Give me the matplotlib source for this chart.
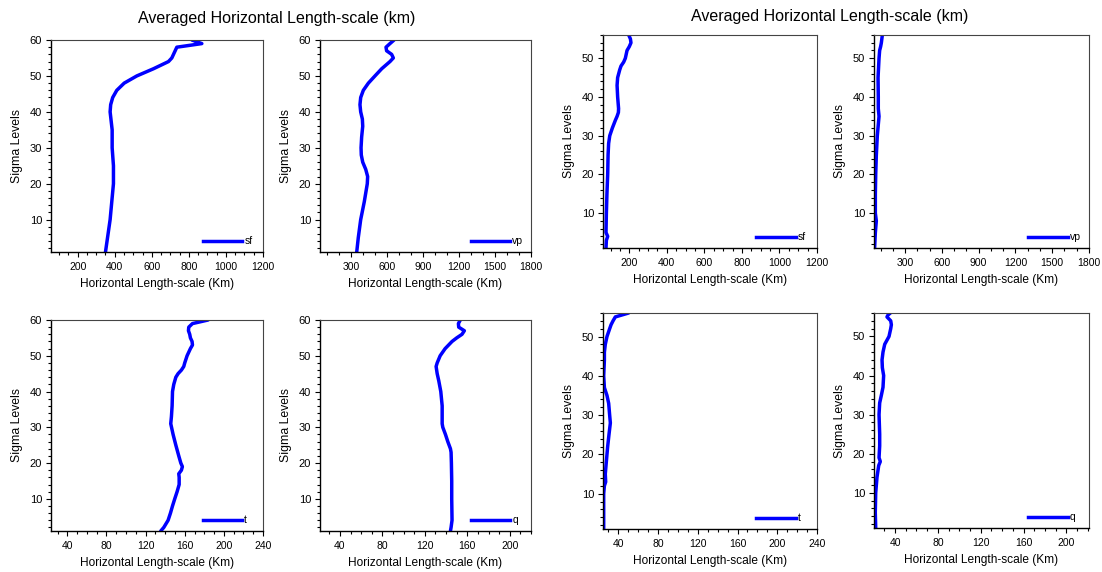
import matplotlib.pyplot as plt
from matplotlib.ticker import MultipleLocator

plt.rcParams['font.family'] = ['Liberation Sans', 'DejaVu Sans']

# Profils de longueur d'echelle horizontale moyenne (km) par niveau sigma
# --- groupe de gauche (60 niveaux) ---
sf_lev_a = [1, 10, 20, 25, 30, 35, 40, 42, 44, 46, 48, 50, 52, 54, 55, 56, 57, 58, 59, 60]
sf_val_a = [350, 375, 393, 393, 386, 386, 375, 378, 389, 411, 451, 519, 609, 690, 708, 717, 726, 735, 870, 816]

vp_lev_a = [1, 5, 10, 15, 20, 22, 24, 26, 28, 30, 33, 36, 38, 40, 42, 44, 46, 48, 50, 52, 54, 55, 56, 57, 58, 59, 60]
vp_val_a = [348, 361, 381, 411, 436, 439, 423, 398, 386, 384, 389, 398, 395, 381, 375, 381, 403, 445, 500, 556, 625, 653, 639, 597, 592, 625, 659]

t_lev_a = [1, 2, 4, 6, 8, 10, 12, 14, 16, 17, 18, 19, 20, 22, 25, 28, 31, 33, 36, 40, 42, 44, 45, 46, 47, 48,
           50, 52, 53, 54, 55, 56, 57, 58, 59, 60]
t_val_a = [135.5, 138.6, 143.0, 145.4, 147.5, 149.8, 152.2, 154.3, 154.3, 153.9, 156.6, 157.6, 156.0, 153.9,
           150.9, 148.1, 145.7, 146.4, 147.1, 147.5, 148.8, 150.9, 153.2, 156.6, 159.0, 160.0, 162.4, 165.8,
           167.9, 167.5, 165.8, 165.1, 163.8, 164.1, 167.9, 183.9]

q_lev_a = [1, 2, 4, 10, 15, 20, 23, 24, 26, 28, 30, 31, 33, 36, 40, 43, 45, 47, 48, 50, 52, 54, 55, 56, 57, 58, 59, 60]
q_val_a = [144.1, 144.7, 145.6, 145.3, 145.3, 145.0, 144.7, 144.1, 141.6, 139.4, 136.9, 136.3, 136.3, 136.3,
           135.0, 133.1, 131.6, 130.6, 131.6, 134.4, 139.1, 145.6, 150.0, 155.0, 157.2, 151.9, 151.6, 153.4]

# --- groupe de droite (56 niveaux) ---
sf_lev_b = [1, 3, 4, 5, 10, 15, 20, 25, 28, 30, 32, 34, 35, 36, 37, 40, 43, 45, 47, 48, 49, 50, 52, 53, 54, 55, 56]
sf_val_b = [76, 78, 85, 76, 78, 81, 85, 87, 90, 96, 110, 126, 135, 142, 143, 138, 135, 138, 149, 156, 170, 179,
            188, 200, 209, 206, 197]

vp_lev_b = [1, 5, 8, 10, 15, 20, 25, 30, 35, 37, 40, 45, 50, 52, 53, 54, 56]
vp_val_b = [52, 58, 66, 58, 58, 61, 66, 74, 88, 82, 82, 80, 88, 93, 101, 107, 115]

t_lev_b = [1, 5, 10, 12, 13, 15, 20, 22, 25, 28, 30, 33, 35, 37, 40, 44, 46, 48, 50, 52, 53, 54, 55, 56]
t_val_b = [25.3, 25.3, 25.3, 26.0, 27.3, 26.9, 28.6, 29.3, 30.6, 32.0, 31.3, 30.3, 28.6, 26.0, 25.3, 26.0,
           26.0, 26.9, 28.6, 31.3, 32.7, 34.7, 37.0, 50.4]

q_lev_b = [1, 5, 10, 14, 17, 18, 19, 22, 25, 30, 33, 35, 37, 40, 42, 44, 46, 48, 50, 52, 53, 54, 55, 55.5, 56]
q_val_b = [22.0, 21.6, 22.0, 23.2, 24.8, 26.3, 25.1, 25.7, 25.7, 25.1, 25.7, 27.3, 28.8, 29.4, 28.2, 27.9,
           28.8, 30.4, 34.4, 36.0, 36.6, 36.0, 32.5, 33.5, 35.7]

W, H = 1102, 572
fig = plt.figure(figsize=(W / 100, H / 100), dpi=100)


def panel(box, lev, val, name, xlim, xmajor, xminor, ymax):
    x0, y0, x1, y1 = box
    ax = fig.add_axes([x0 / W, 1 - y1 / H, (x1 - x0) / W, (y1 - y0) / H])
    ax.plot(val, lev, color='#0000ff', lw=2.5, solid_capstyle='round', solid_joinstyle='round')
    # legende style NCL : segment + nom de la variable
    ax.plot([0.717, 0.9], [0.05, 0.05], color='#0000ff', lw=2.5, transform=ax.transAxes)
    ax.text(0.912, 0.05, name, transform=ax.transAxes, fontsize=7.5, va='center', ha='left')
    ax.set_xlim(*xlim)
    ax.set_ylim(1, ymax)
    ax.xaxis.set_major_locator(MultipleLocator(xmajor))
    ax.xaxis.set_minor_locator(MultipleLocator(xminor))
    ax.yaxis.set_major_locator(MultipleLocator(10))
    ax.yaxis.set_minor_locator(MultipleLocator(2))
    ax.tick_params(which='both', direction='out', top=False, right=False)
    ax.tick_params(axis='x', labelsize=7.5, pad=4)
    ax.tick_params(axis='y', labelsize=8, pad=3)
    ax.tick_params(which='major', length=3.5, width=0.8)
    ax.tick_params(which='minor', length=2, width=0.8)
    for s in ['top', 'right']:
        ax.spines[s].set_color('#444444')
        ax.spines[s].set_linewidth(0.8)
    for s in ['left', 'bottom']:
        ax.spines[s].set_linewidth(1.0)
    ax.set_xlabel('Horizontal Length-scale (Km)', fontsize=8.6, labelpad=4)
    ax.set_ylabel('Sigma Levels', fontsize=8.8, labelpad=4.5)
    return ax


panel((51, 40, 263, 252), sf_lev_a, sf_val_a, 'sf', (56, 1200), 200, 50, 60)
panel((320, 40, 531, 252), vp_lev_a, vp_val_a, 'vp', (42, 1800), 300, 100, 60)
panel((51, 320, 263, 531), t_lev_a, t_val_a, 't', (23.3, 240), 40, 10, 60)
panel((320, 320, 531, 531), q_lev_a, q_val_a, 'q', (21.2, 220), 40, 10, 60)

panel((603, 35, 817, 248), sf_lev_b, sf_val_b, 'sf', (60, 1200), 200, 50, 56)
panel((874, 35, 1089, 248), vp_lev_b, vp_val_b, 'vp', (47, 1800), 300, 100, 56)
panel((603, 313, 817, 529), t_lev_b, t_val_b, 't', (24.6, 240), 40, 10, 56)
panel((874, 313, 1089, 528), q_lev_b, q_val_b, 'q', (20.4, 221), 40, 10, 56)

fig.text(276.5 / W, 1 - 18 / H, 'Averaged Horizontal Length-scale (km)', fontsize=11.5, ha='center', va='center')
fig.text(830 / W, 1 - 17 / H, 'Averaged Horizontal Length-scale (km)', fontsize=11.5, ha='center', va='center')

plt.savefig('out.png', dpi=100)
